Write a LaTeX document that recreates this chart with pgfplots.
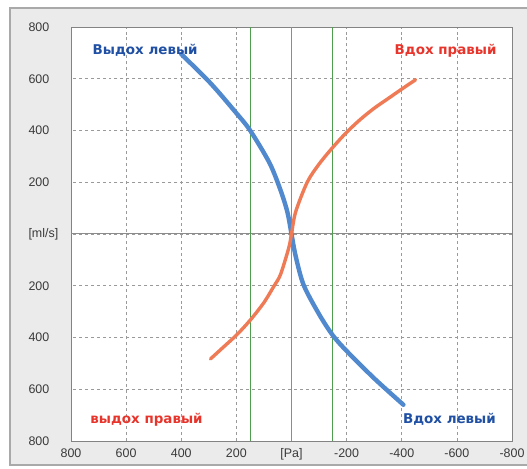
\documentclass[border=0pt]{standalone}
\usepackage{pgfplots}
\pgfplotsset{compat=1.18}
\usepackage{fontspec}
\setmainfont{Liberation Sans}
\newfontfamily\labelfont{DejaVu Sans}
\definecolor{panel}{HTML}{EBEBEB}
\definecolor{panelborder}{HTML}{A9A9A9}
\definecolor{gridgray}{HTML}{9A9A9A}
\definecolor{centergray}{HTML}{8C8C8C}
\definecolor{bluecurve}{HTML}{5089CE}
\definecolor{orangecurve}{HTML}{EF7B56}
\definecolor{bluetext}{HTML}{2050A4}
\definecolor{redtext}{HTML}{E8352C}
\definecolor{greenline}{HTML}{4E9E4E}
\definecolor{ticktext}{HTML}{3A3A3A}
\begin{document}
\begin{tikzpicture}[x=1bp,y=1bp]
\path[use as bounding box] (0,0) rectangle (527,469);
\fill[panel] (10,4) rectangle (527,461);
\draw[panelborder, line width=2bp] (527,461) -- (10,461) -- (10,4) -- (527,4);
\begin{axis}[
  at={(71bp,28bp)}, anchor=south west,
  scale only axis, width=441bp, height=414bp,
  x dir=reverse,
  xmin=-800, xmax=800, ymin=-800, ymax=800,
  axis background/.style={fill=white},
  axis line style={draw=gridgray!85!black, line width=0.8bp},
  xtick={-800,-600,...,800},
  xticklabels={-800,-600,-400,-200,{[Pa]},200,400,600,800},
  ytick={-800,-600,...,800},
  yticklabels={800,600,400,200,{[ml/s]},200,400,600,{\raisebox{-6bp}{800}}},
  extra x ticks={0}, extra y ticks={0},
  extra x tick labels={}, extra y tick labels={},
  extra tick style={grid=major, major grid style={draw=centergray, solid, line width=1bp}},
  major tick length=0pt,
  tick label style={font=\fontsize{12.5}{14}\selectfont, text=ticktext},
  /pgf/number format/assume math mode=true,
  xticklabel style={yshift=-4bp},
  yticklabel style={anchor=west, xshift=-46bp},
  grid=major,
  major grid style={draw=gridgray, dashed, line width=0.7bp},
  clip=true,
]
% green lines
\addplot[draw=greenline, line width=1bp, forget plot] coordinates {(150,-800) (150,800)};
\addplot[draw=greenline, line width=1bp, forget plot] coordinates {(-150,-800) (-150,800)};
% blue curve (Выдох левый / Вдох левый)
\addplot[draw=bluecurve, line width=4.4bp, smooth, line cap=round] coordinates {
(400,695) (294,583) (200,467) (150,400) (80,275) (40,170) (15,85) (0,0)
(-15,-85) (-44,-197) (-100,-310) (-150,-392) (-200,-452) (-300,-558) (-406,-660)};
% orange curve (Вдох правый / выдох правый)
\addplot[draw=orangecurve, line width=3.4bp, smooth, line cap=round] coordinates {
(-450,596) (-400,560) (-350,523) (-300,486) (-250,443) (-200,393) (-150,335)
(-100,270) (-57,200) (-15,85) (0,0)
(10,-54) (40,-157) (64,-202) (100,-265) (149,-332) (197,-388) (250,-440) (294,-483)};
\node[font=\labelfont\fontsize{13.5}{15}\selectfont\bfseries, text=bluetext] at (axis cs:531,710) {Выдох левый};
\node[font=\labelfont\fontsize{13.5}{15}\selectfont\bfseries, text=redtext] at (axis cs:-559,710) {Вдох правый};
\node[font=\labelfont\fontsize{13.5}{15}\selectfont\bfseries, text=redtext] at (axis cs:526,-718) {выдох правый};
\node[font=\labelfont\fontsize{13.5}{15}\selectfont\bfseries, text=bluetext] at (axis cs:-573,-718) {Вдох левый};
\end{axis}
\end{tikzpicture}
\end{document}
